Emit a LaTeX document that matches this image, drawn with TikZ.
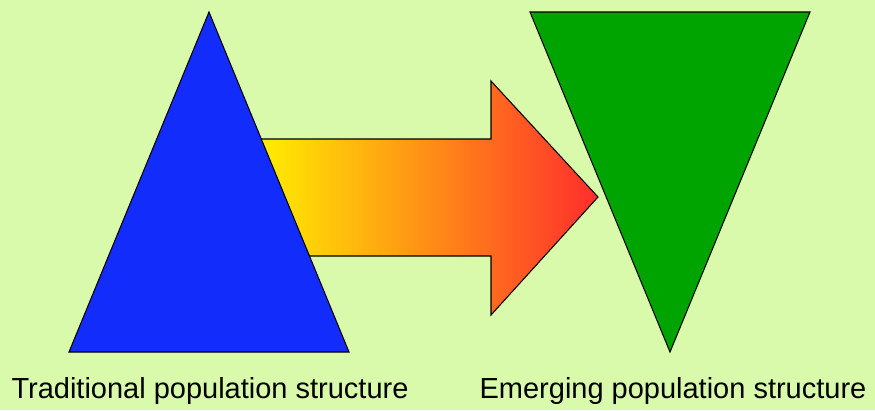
\documentclass[tikz,border=0pt]{standalone}
\usepackage{fontspec}
\setmainfont{Liberation Sans}
\definecolor{bgGreen}{RGB}{217,250,170}
\definecolor{popBlue}{RGB}{18,44,252}
\definecolor{popGreen}{RGB}{0,164,0}
\definecolor{arrYellow}{RGB}{255,240,0}
\definecolor{arrOrange}{RGB}{252,165,40}
\definecolor{arrRed}{RGB}{255,45,45}
\begin{document}
\begin{tikzpicture}[x=0.02cm, y=-0.02cm,
    pyramid/.style={draw=black, line width=0.6pt, line join=miter},
    caption/.style={font=\fontsize{16.5}{18}\selectfont, inner sep=0pt}]

  % Canvas
  \fill[bgGreen] (0,0) rectangle (875,410);
  \useasboundingbox (0,0) rectangle (875,410);

  % Corner points of the two pyramids
  \coordinate (tTop)   at (209,12);
  \coordinate (tLeft)  at (69,352);
  \coordinate (tRight) at (349,352);
  \coordinate (eLeft)  at (530,12);
  \coordinate (eRight) at (810,12);
  \coordinate (eBot)   at (670,352);

  % Shift arrow (under the blue pyramid)
  \path[draw=black, line width=0.6pt, left color=arrYellow,
        middle color=arrOrange, right color=arrRed]
    (256,139) -- (491,139) -- (491,81) -- (598,197)
    -- (491,315) -- (491,256) -- (256,256) -- cycle;

  % Traditional population structure
  \path[pyramid, fill=popBlue] (tTop) -- (tRight) -- (tLeft) -- cycle;

  % Emerging population structure
  \path[pyramid, fill=popGreen] (eLeft) -- (eRight) -- (eBot) -- cycle;

  % Captions
  \node[caption] (tradLabel) at (210,391) {Traditional population structure};
  \node[caption] (emergLabel) at (673,391) {Emerging population structure};

\end{tikzpicture}
\end{document}
